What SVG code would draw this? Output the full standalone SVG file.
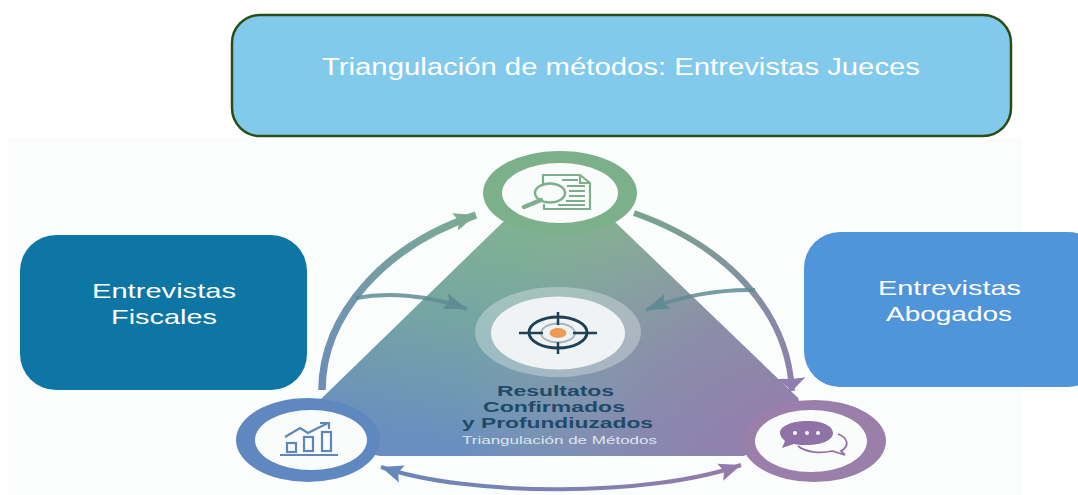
<svg xmlns="http://www.w3.org/2000/svg" width="1078" height="495" viewBox="0 0 1078 495">
<style>
.w{font-family:"Liberation Sans",Arial,sans-serif;fill:#fff;text-anchor:middle}
.r{font-family:"Liberation Sans",Arial,sans-serif;font-weight:700;font-size:14px;fill:#1f4a68;text-anchor:middle}
.hole{fill:#fafcfc}
.line{fill:none}
</style>
<defs>
<linearGradient id="triV" gradientUnits="userSpaceOnUse" x1="565" y1="222" x2="520" y2="460"><stop offset="0" stop-color="#82b390"/><stop offset=".45" stop-color="#76a6a2"/><stop offset="1" stop-color="#6a8ec0"/></linearGradient>
<radialGradient id="triH" gradientUnits="userSpaceOnUse" cx="790" cy="450" r="330"><stop offset="0" stop-color="#957bab" stop-opacity="1"/><stop offset=".45" stop-color="#9382ad" stop-opacity=".7"/><stop offset="1" stop-color="#9a9ba8" stop-opacity="0"/></radialGradient>
<linearGradient id="arcL" gradientUnits="userSpaceOnUse" x1="322" y1="390" x2="480" y2="213"><stop offset="0" stop-color="#6c8db8"/><stop offset="1" stop-color="#7cab92"/></linearGradient>
<linearGradient id="arcR" gradientUnits="userSpaceOnUse" x1="634" y1="213" x2="793" y2="390"><stop offset="0" stop-color="#76a58c"/><stop offset="1" stop-color="#8f7fae"/></linearGradient>
<linearGradient id="arcB" gradientUnits="userSpaceOnUse" x1="380" y1="470" x2="742" y2="470"><stop offset="0" stop-color="#6688b8"/><stop offset="1" stop-color="#957bab"/></linearGradient>
<marker id="mG" markerUnits="userSpaceOnUse" markerWidth="24" markerHeight="20" refX="22" refY="10" orient="auto"><path d="M0 1 L22 10 L0 19 L4 10Z" fill="#7cab92"/></marker>
<marker id="mP" markerUnits="userSpaceOnUse" markerWidth="16" markerHeight="30" refX="13" refY="15" orient="auto"><path d="M0 1 L13 15 L0 29 L1 15Z" fill="#8f7fae"/></marker>
<marker id="mT" markerUnits="userSpaceOnUse" markerWidth="26" markerHeight="18" refX="23" refY="9" orient="auto"><path d="M0 1 L23 9 L0 17 L4 9Z" fill="#5f8b94"/></marker>
<marker id="mB" markerUnits="userSpaceOnUse" markerWidth="24" markerHeight="20" refX="22" refY="10" orient="auto-start-reverse"><path d="M0 1 L22 10 L0 19 L4 10Z" fill="#6688b8"/></marker>
<marker id="mV" markerUnits="userSpaceOnUse" markerWidth="24" markerHeight="20" refX="22" refY="10" orient="auto"><path d="M0 1 L22 10 L0 19 L4 10Z" fill="#957bab"/></marker>
</defs>
<rect width="1078" height="495" fill="#fff"/>
<rect x="8" y="138" width="1014" height="357" fill="#fbfcfc"/>
<g id="triangle">
<path d="M503 222 L322 398 L300 440 L380 456 L742 456 L810 440 L798 398 L615 222Z" fill="url(#triV)"/>
<path d="M503 222 L322 398 L300 440 L380 456 L742 456 L810 440 L798 398 L615 222Z" fill="url(#triH)"/>
</g>
<g id="connectors">
<path class="line" d="M322 390 C322 315 385 245 476 215" stroke="url(#arcL)" stroke-width="7.5" marker-end="url(#mG)"/>
<path class="line" d="M356 298 C388 292 428 295 467 309" stroke="#5f8b94" stroke-opacity=".85" stroke-width="4" marker-end="url(#mT)"/>
<path class="line" d="M634 213 C725 245 788 310 792 391" stroke="url(#arcR)" stroke-width="6" marker-end="url(#mP)"/>
<path class="line" d="M755 290 C720 289 680 296 646 310" stroke="#5f8b94" stroke-opacity=".85" stroke-width="4" marker-end="url(#mT)"/>
<path class="line" d="M381 467 C470 497 650 497 741 465" stroke="url(#arcB)" stroke-width="4" marker-start="url(#mB)" marker-end="url(#mV)"/>
</g>
<g id="node-top">
<ellipse cx="560" cy="193" rx="77" ry="42" fill="#7cb08b"/>
<ellipse class="hole" cx="560" cy="193" rx="58" ry="30"/>
<g fill="none" stroke="#7fae8d" stroke-width="2.2">
<path d="M543 184V175H580L590 183V209H544V204"/>
<path d="M580 175V183H590"/>
<path d="M562 180H578M567 186H585M569 191H585M569 196H585M566 201H585M558 205H585"/>
<ellipse cx="550" cy="193" rx="15" ry="9.5" fill="#fafcfc" stroke-width="2.5"/>
<path d="M541 200L524 207" stroke-width="4.5" stroke-linecap="round"/>
</g>
</g>
<g id="node-left">
<ellipse cx="308" cy="440" rx="72" ry="42" fill="#5f88c0"/>
<ellipse class="hole" cx="311" cy="440" rx="56" ry="30"/>
<g fill="none" stroke="#5e85bc" stroke-width="2.2">
<path d="M280 455H338"/>
<rect x="287" y="443" width="9" height="9"/>
<rect x="304" y="437" width="9" height="14"/>
<rect x="322" y="432" width="9" height="19"/>
<path d="M285 437L300 428L308 433L328 423"/>
<path d="M320 423H329V429"/>
</g>
</g>
<g id="node-right">
<ellipse cx="814" cy="441" rx="72" ry="41" fill="#9a7fab"/>
<ellipse class="hole" cx="811" cy="441" rx="56" ry="31"/>
<path d="M807 421C825 421 833 427 833 433C833 440 822 445 807 445C802 445 798 445 794 444L782 448L785 441C782 438 780 436 780 433C780 426 792 421 807 421Z" fill="#8f72a6"/>
<g fill="#fafcfc"><circle cx="795" cy="433" r="2"/><circle cx="807" cy="433" r="2"/><circle cx="818" cy="433" r="2"/></g>
<path d="M838 434C848 438 850 446 841 451L845 455L832 451C820 454 805 452 798 446" fill="none" stroke="#8f72a6" stroke-width="1.8"/>
</g>
<g id="node-center">
<ellipse cx="558" cy="332" rx="83" ry="45" fill="#fff" fill-opacity=".3"/>
<ellipse cx="558" cy="333" rx="67" ry="36.5" fill="#eff3f3"/>
<ellipse cx="558" cy="333" rx="17" ry="9.5" fill="none" stroke="#a9b9bd" stroke-width="2"/>
<ellipse cx="558" cy="333" rx="8.5" ry="5" fill="#ee9c55"/>
<ellipse cx="558" cy="332.5" rx="29" ry="15.5" fill="none" stroke="#1d4258" stroke-width="3"/>
<path d="M519 333H543M573 333H597M558 312V325M558 342V354" stroke="#1d4258" stroke-width="2.5" fill="none"/>
<text class="r" x="555.5" y="396" textLength="117" lengthAdjust="spacingAndGlyphs">Resultatos</text>
<text class="r" x="554" y="412" textLength="142" lengthAdjust="spacingAndGlyphs">Confirmados</text>
<text class="r" x="557.5" y="428" textLength="191" lengthAdjust="spacingAndGlyphs">y Profundiuzados</text>
<text x="559.5" y="444" textLength="195" lengthAdjust="spacingAndGlyphs" style="font-family:'Liberation Sans',sans-serif;font-size:11.5px;fill:#dde5ec;text-anchor:middle">Triangulación de Métodos</text>
</g>
<g id="node-title">
<rect x="232" y="15" width="779" height="121" rx="28" fill="#82caec" stroke="#2a4d14" stroke-width="2.5"/>
<text class="w" x="621" y="75" font-size="23" textLength="598" lengthAdjust="spacingAndGlyphs">Triangulación de métodos: Entrevistas Jueces</text>
</g>
<g id="node-fiscales">
<rect x="20" y="235" width="287" height="155" rx="36" fill="#0e76a5"/>
<text class="w" x="164" y="298" font-size="21" textLength="144" lengthAdjust="spacingAndGlyphs">Entrevistas</text>
<text class="w" x="164" y="324" font-size="21" textLength="106" lengthAdjust="spacingAndGlyphs">Fiscales</text>
</g>
<g id="node-abogados">
<rect x="804" y="232" width="300" height="155" rx="36" fill="#5094da"/>
<text class="w" x="949.5" y="295" font-size="21" textLength="143" lengthAdjust="spacingAndGlyphs">Entrevistas</text>
<text class="w" x="949" y="321" font-size="20" textLength="126" lengthAdjust="spacingAndGlyphs">Abogados</text>
</g>
</svg>
